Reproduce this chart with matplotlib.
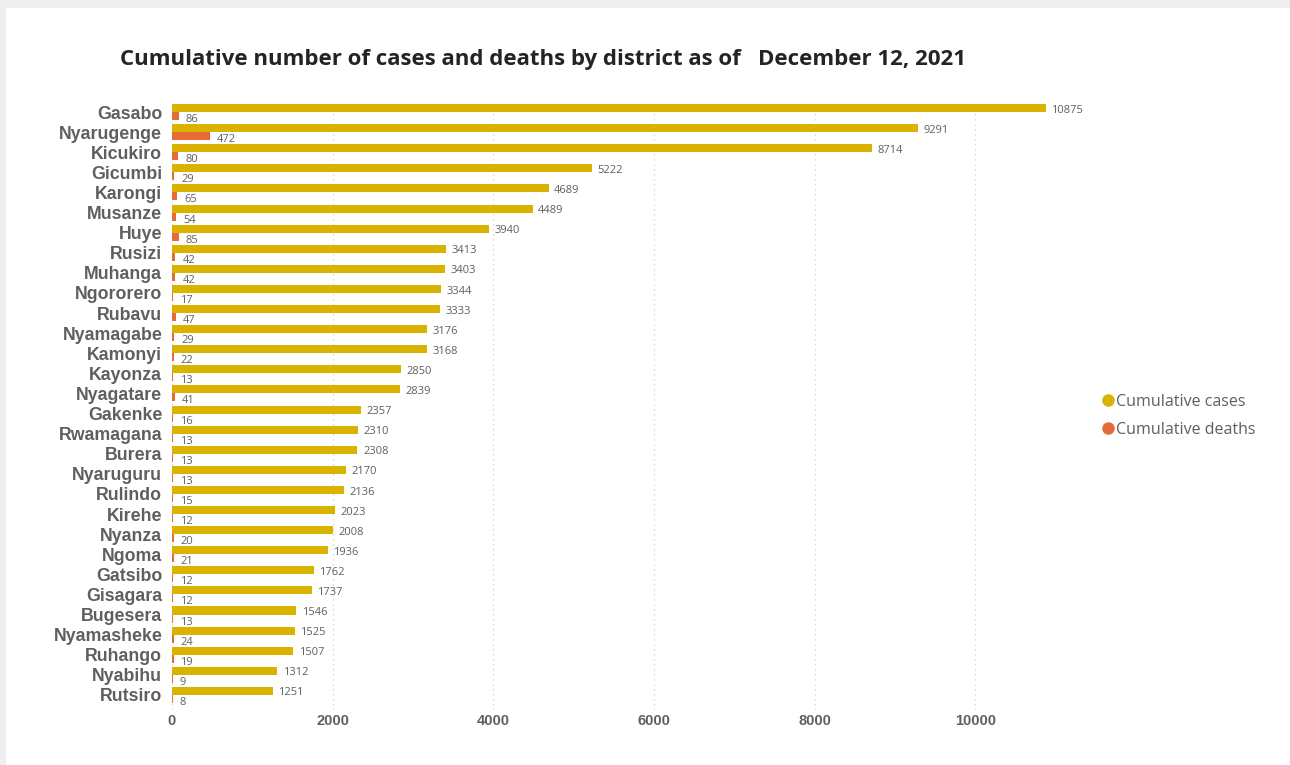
import matplotlib

matplotlib.use("Agg")
import matplotlib.pyplot as plt
import numpy as np
from matplotlib.lines import Line2D
from matplotlib.patches import Rectangle

CASES_COLOR = "#D9B300"
DEATHS_COLOR = "#E66C37"
TEXT_GRAY = "#5f5f5f"

districts = ["Gasabo", "Nyarugenge", "Kicukiro", "Gicumbi", "Karongi", "Musanze",
             "Huye", "Rusizi", "Muhanga", "Ngororero", "Rubavu", "Nyamagabe",
             "Kamonyi", "Kayonza", "Nyagatare", "Gakenke", "Rwamagana", "Burera",
             "Nyaruguru", "Rulindo", "Kirehe", "Nyanza", "Ngoma", "Gatsibo",
             "Gisagara", "Bugesera", "Nyamasheke", "Ruhango", "Nyabihu", "Rutsiro"]
cases = [10875, 9291, 8714, 5222, 4689, 4489, 3940, 3413, 3403, 3344, 3333, 3176,
         3168, 2850, 2839, 2357, 2310, 2308, 2170, 2136, 2023, 2008, 1936, 1762,
         1737, 1546, 1525, 1507, 1312, 1251]
deaths = [86, 472, 80, 29, 65, 54, 85, 42, 42, 17, 47, 29, 22, 13, 41, 16, 13, 13,
          13, 15, 12, 20, 21, 12, 12, 13, 24, 19, 9, 8]
xticks = [0, 2000, 4000, 6000, 8000, 10000]

W, H = 1290, 765
fig = plt.figure(figsize=(W / 100, H / 100), dpi=100)
fig.patch.set_facecolor("white")

# gray frame top/left like the dashboard canvas
fig.add_artist(Rectangle((0, 1 - 8 / H), 1, 8 / H, transform=fig.transFigure,
                         fc="#efefef", ec="none", zorder=0))
fig.add_artist(Rectangle((0, 0), 6 / W, 1, transform=fig.transFigure,
                         fc="#efefef", ec="none", zorder=0))

ax = fig.add_axes([172 / W, 1 - 710 / H, (1075 - 172) / W, (710 - 100) / H])

y = np.arange(len(districts))
bh = 0.4
ax.barh(y - bh / 2, cases, height=bh, color=CASES_COLOR, zorder=3)
ax.barh(y + bh / 2, deaths, height=bh, color=DEATHS_COLOR, zorder=3)

for yi, c, d in zip(y, cases, deaths):
    ax.annotate(str(c), (c, yi - bh / 2), xytext=(4, -1.5), textcoords="offset points",
                va="center", ha="left", fontsize=8, color=TEXT_GRAY,
                family="Open Sans")
    ax.annotate(str(d), (d, yi + bh / 2), xytext=(5, -2.5), textcoords="offset points",
                va="center", ha="left", fontsize=8, color=TEXT_GRAY,
                family="Open Sans")

ax.set_xlim(0, 11240)
ax.set_ylim(len(districts) - 1 + 0.75, -0.6)
ax.set_yticks(y)
ax.set_yticklabels(districts, fontsize=12.8, fontweight="bold", color=TEXT_GRAY,
                   family="Liberation Sans")
ax.set_xticks(xticks)
ax.set_xticklabels([str(t) for t in xticks], fontsize=10.5, fontweight="bold",
                   color=TEXT_GRAY, family="Liberation Sans")
ax.tick_params(axis="both", length=0)
ax.tick_params(axis="y", pad=7)
ax.tick_params(axis="x", pad=3)
ax.grid(axis="x", color="#d0d0d0", linestyle=(0, (1, 3)), linewidth=0.9, zorder=0)
for s in ax.spines.values():
    s.set_visible(False)

fig.text(543 / W, 1 - 60 / H,
         "Cumulative number of cases and deaths by district as of   December 12, 2021",
         ha="center", va="center", fontsize=16, fontweight="bold",
         color="#252423", family="Open Sans")

handles = [
    Line2D([], [], marker="o", ls="", ms=8, mfc=CASES_COLOR, mec=CASES_COLOR,
           label="Cumulative cases"),
    Line2D([], [], marker="o", ls="", ms=8, mfc=DEATHS_COLOR, mec=DEATHS_COLOR,
           label="Cumulative deaths"),
]
leg = fig.legend(handles=handles, loc="center left", bbox_to_anchor=(1092 / W, 1 - 416 / H),
                 frameon=False, handletextpad=0.0, labelspacing=0.75,
                 borderpad=0, handlelength=1.0,
                 prop={"family": "Open Sans", "size": 11.5})
for t in leg.get_texts():
    t.set_color(TEXT_GRAY)

fig.savefig("out.png", dpi=100)
